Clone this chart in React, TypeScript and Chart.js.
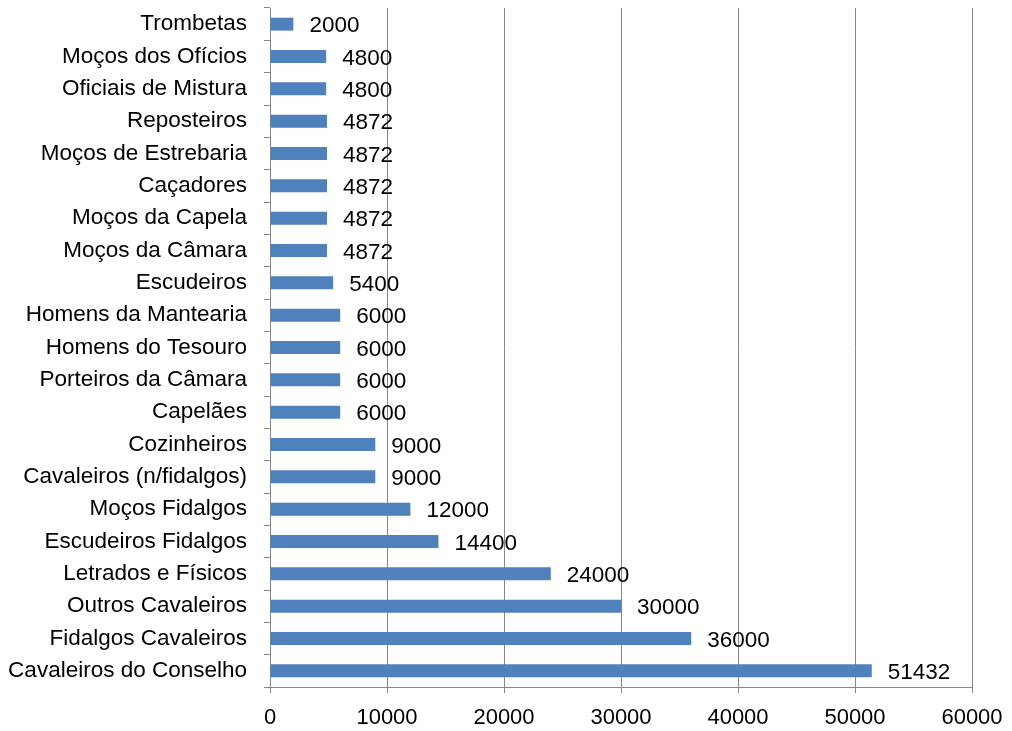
import React, { useEffect, useRef } from "react";
import { Chart, registerables } from "chart.js";

Chart.register(...registerables);

const categories: string[] = [
  "Trombetas",
  "Moços dos Ofícios",
  "Oficiais de Mistura",
  "Reposteiros",
  "Moços de Estrebaria",
  "Caçadores",
  "Moços da Capela",
  "Moços da Câmara",
  "Escudeiros",
  "Homens da Mantearia",
  "Homens do Tesouro",
  "Porteiros da Câmara",
  "Capelães",
  "Cozinheiros",
  "Cavaleiros (n/fidalgos)",
  "Moços Fidalgos",
  "Escudeiros Fidalgos",
  "Letrados e Físicos",
  "Outros Cavaleiros",
  "Fidalgos Cavaleiros",
  "Cavaleiros do Conselho",
];

const values: number[] = [
  2000, 4800, 4800, 4872, 4872, 4872, 4872, 4872, 5400, 6000, 6000, 6000, 6000,
  9000, 9000, 12000, 14400, 24000, 30000, 36000, 51432,
];

const FONT = "'Liberation Sans', Arial, sans-serif";

const valueLabels = {
  id: "valueLabels",
  afterDatasetsDraw(chart: any) {
    const ctx = chart.ctx;
    const meta = chart.getDatasetMeta(0);
    ctx.save();
    ctx.font = `22.5px ${FONT}`;
    ctx.fillStyle = "#000";
    ctx.textAlign = "left";
    ctx.textBaseline = "middle";
    meta.data.forEach((el: any, i: number) => {
      ctx.fillText(String(values[i]), el.x + 16, el.y + 2);
    });
    ctx.restore();
  },
};

export default function App() {
  const ref = useRef<HTMLCanvasElement>(null);
  useEffect(() => {
    if (!ref.current) return;
    const chart = new Chart(ref.current, {
      type: "bar",
      data: {
        labels: categories,
        datasets: [
          {
            data: values,
            backgroundColor: "#4F81BD",
            borderWidth: 0,
            barPercentage: 0.4,
            categoryPercentage: 1,
          },
        ],
      },
      options: {
        indexAxis: "y",
        animation: false,
        responsive: false,
        maintainAspectRatio: false,
        layout: { padding: { left: 0, right: 40, top: 8, bottom: 0 } },
        plugins: { legend: { display: false }, tooltip: { enabled: false } },
        scales: {
          x: {
            min: 0,
            max: 60000,
            ticks: {
              stepSize: 10000,
              color: "#000",
              font: { size: 22, family: FONT },
              padding: 12,
              maxRotation: 0,
              callback: (v: any) => String(v),
            },
            grid: { color: "#868686", tickLength: 6, lineWidth: 1 },
            border: { color: "#868686" },
            afterFit: (s: any) => {
              s.height = 44;
              s.paddingLeft = 0;
              s.paddingRight = 0;
            },
          },
          y: {
            ticks: {
              color: "#000",
              font: { size: 22.5, family: FONT },
              padding: 17,
              autoSkip: false,
            },
            grid: {
              drawOnChartArea: false,
              offset: true,
              tickLength: 6,
              color: "#868686",
            },
            border: { color: "#868686" },
            afterFit: (s: any) => {
              s.width = 270;
              s.paddingTop = 0;
              s.paddingBottom = 0;
            },
          },
        },
      },
      plugins: [valueLabels],
    });
    return () => chart.destroy();
  }, []);
  return (
    <div style={{ position: "fixed", left: 0, top: 0, width: 1012, height: 731, background: "#fff" }}>
      <canvas ref={ref} width={1012} height={731} />
    </div>
  );
}
